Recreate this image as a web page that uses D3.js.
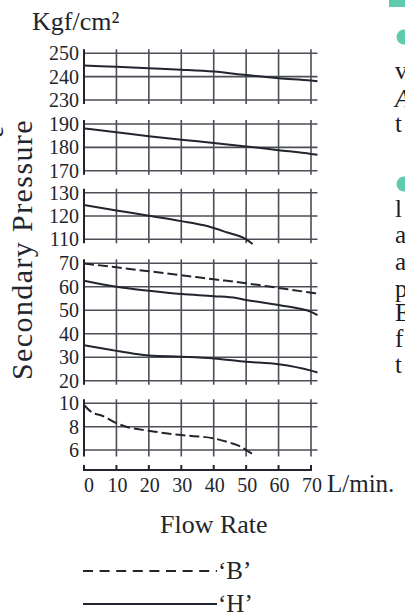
<!DOCTYPE html>
<html>
<head>
<meta charset="utf-8">
<script src="https://cdn.jsdelivr.net/npm/d3@7"></script>
<style>
  body { margin: 0; background: #fff; }
  svg { display: block; font-family: "Liberation Serif", "DejaVu Serif", serif; }
</style>
</head>
<body>
<svg id="canvas" width="405" height="612"></svg>
<script>
// flow rate axis
let flowTicks = [0, 10, 20, 30, 40, 50, 60, 70];

// pressure ticks per panel
let ticks250 = [230, 240, 250];
let ticks190 = [170, 180, 190];
let ticks130 = [110, 120, 130];
let ticks70 = [20, 30, 40, 50, 60, 70];
let ticks10 = [6, 8, 10];

// curves [flow, pressure]
let h250 = [[0,244.8],[10,244.2],[20,243.6],[30,243],[40,242.2],[50,240.7],[60,239.3],[70,238.3],[72,238]];
let h190 = [[0,188.1],[10,186.5],[20,184.8],[30,183.3],[40,181.9],[50,180.4],[60,178.8],[70,177.2],[72,176.8]];
let h130 = [[0,124.7],[10,122.4],[20,120.1],[30,117.8],[37,116],[44,113],[50,110],[52,108]];
let b70  = [[0,69.9],[10,68.3],[20,66.6],[30,64.9],[40,63.2],[50,61.5],[60,59.5],[70,57.5],[72,57.1]];
let h60  = [[0,62.6],[10,60],[20,58.3],[30,56.9],[40,56],[47,55.2],[50,54.4],[60,52.2],[70,49.3],[72,47.9]];
let h35  = [[0,35.1],[10,32.7],[15,31.6],[20,30.7],[30,30.2],[40,29.5],[50,28.1],[60,27],[70,24.3],[72,23.5]];
let b10  = [[0,9.86],[3,9.14],[5,9.0],[10,8.3],[13,8.0],[20,7.65],[30,7.28],[40,7.0],[45,6.63],[48,6.34],[50,6.0],[52,5.66]];

let legendNames = ['‘B’', '‘H’'];
let sideLines = ['v', 'A', 't', 'l', 'a', 'a', 'p', 'E', 'f', 't'];

let svg = d3.select('#canvas');
let ink = '#22252d';
let grid = '#4b4e55';

let x = d3.scaleLinear().domain([0, 70]).range([84, 311]);

let panels = [
  { ticks: ticks250, domain: [230, 250], range: [100, 53.3], ext: 4, series: [{ d: h250 }] },
  { ticks: ticks190, domain: [170, 190], range: [170.7, 124], ext: 4, series: [{ d: h190 }] },
  { ticks: ticks130, domain: [110, 130], range: [239.3, 192.7], ext: 4, series: [{ d: h130 }] },
  { ticks: ticks70, domain: [20, 70], range: [380.7, 263.3], ext: 4, series: [{ d: b70, dash: '10,4' }, { d: h60 }, { d: h35 }] },
  { ticks: ticks10, domain: [5.45, 10], range: [456.5, 403.3], ext: 0, series: [{ d: b10, dash: '10,4' }] }
];

panels.forEach(p => {
  let y = d3.scaleLinear().domain(p.domain).range(p.range);
  let g = svg.append('g');
  // horizontal grid
  g.selectAll('line.h').data(p.ticks).enter().append('line')
    .attr('x1', x(0)).attr('x2', x(72))
    .attr('y1', d => y(d)).attr('y2', d => y(d))
    .attr('stroke', grid).attr('stroke-width', 1.6);
  // vertical grid
  g.selectAll('line.v').data(flowTicks).enter().append('line')
    .attr('x1', d => x(d)).attr('x2', d => x(d))
    .attr('y1', y(p.domain[1]) - 4).attr('y2', y(p.domain[0]) + p.ext)
    .attr('stroke', d => d === 0 ? ink : grid)
    .attr('stroke-width', d => d === 0 ? 2 : 1.6);
  // tick labels
  g.selectAll('text').data(p.ticks).enter().append('text')
    .attr('x', 79).attr('y', d => y(d) + 7)
    .attr('text-anchor', 'end')
    .attr('font-size', 20).attr('fill', ink)
    .text(d => d);
  // curves
  let line = d3.line().x(d => x(d[0])).y(d => y(d[1])).curve(d3.curveMonotoneX);
  p.series.forEach(s => {
    g.append('path').attr('d', line(s.d))
      .attr('fill', 'none').attr('stroke', ink).attr('stroke-width', 2)
      .attr('stroke-dasharray', s.dash || null);
  });
});

// bottom flow axis
let axisY = 470;
svg.append('line').attr('x1', x(0)).attr('x2', x(70) + 1)
  .attr('y1', axisY).attr('y2', axisY).attr('stroke', ink).attr('stroke-width', 2);
svg.selectAll('line.tick').data(flowTicks).enter().append('line')
  .attr('x1', d => x(d)).attr('x2', d => x(d))
  .attr('y1', axisY - 5).attr('y2', axisY + 1)
  .attr('stroke', ink).attr('stroke-width', 2);
svg.selectAll('text.ftick').data(flowTicks).enter().append('text')
  .attr('x', d => x(d) + (d === 0 ? 5 : 1)).attr('y', 492)
  .attr('text-anchor', 'middle').attr('font-size', 20).attr('fill', ink)
  .text(d => d);
svg.append('text').attr('x', 327).attr('y', 492).attr('font-size', 25).attr('fill', ink).text('L/min.');

// titles
svg.append('text').attr('x', 32).attr('y', 30).attr('font-size', 26).attr('fill', ink).text('Kgf/cm²');
svg.append('text').attr('x', 160).attr('y', 533).attr('font-size', 26).attr('fill', ink).text('Flow Rate');
svg.append('text').attr('transform', 'translate(32,380) rotate(-90)')
  .attr('text-anchor', 'start').attr('font-size', 30).attr('letter-spacing', 1.4)
  .attr('fill', ink).text('Secondary Pressure');
svg.append('text').attr('transform', 'translate(3,126) rotate(-90)')
  .attr('text-anchor', 'end').attr('font-size', 27).attr('fill', ink).text('e');

// legend
let legend = svg.selectAll('g.legend').data(legendNames).enter().append('g')
  .attr('transform', (d, i) => 'translate(0,' + (571 + i * 33) + ')');
legend.append('line').attr('x1', 83).attr('x2', 217).attr('y1', 0).attr('y2', 0)
  .attr('stroke', ink).attr('stroke-width', 2)
  .attr('stroke-dasharray', (d, i) => i === 0 ? '10,6.6' : null);
legend.append('text').attr('x', 218).attr('y', 8).attr('font-size', 25).attr('fill', ink).text(d => d);

// neighbouring column fragment
let teal = '#5ecbae';
svg.append('rect').attr('x', 389).attr('y', 0).attr('width', 16).attr('height', 7).attr('fill', teal);
svg.selectAll('circle').data([37, 184]).enter().append('circle')
  .attr('cx', 404).attr('cy', d => d).attr('r', 7.5).attr('fill', teal);
let sideBase = [79, 107, 132, 217, 243, 270, 297, 321, 347, 373];
svg.selectAll('text.side').data(sideLines).enter().append('text')
  .attr('x', 395).attr('y', (d, i) => sideBase[i])
  .attr('font-size', 25).attr('fill', '#1c1c22')
  .attr('font-style', d => d === 'A' ? 'italic' : null)
  .text(d => d);
</script>
</body>
</html>
